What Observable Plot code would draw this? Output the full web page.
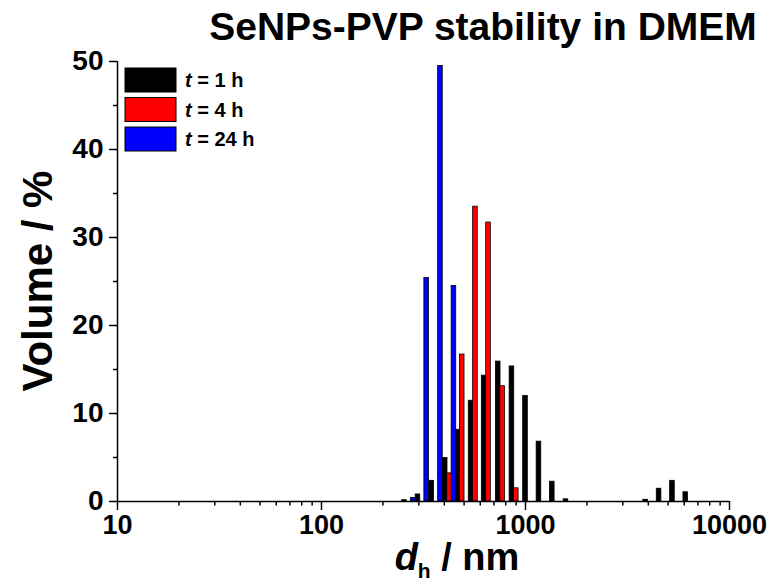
<!DOCTYPE html>
<html><head><meta charset="utf-8">
<script src="https://cdn.jsdelivr.net/npm/d3@7"></script>
<script src="https://cdn.jsdelivr.net/npm/@observablehq/plot@0.6"></script>
<style>body{margin:0;background:#fff} #chart{width:771px;height:584px}</style>
</head><body><div id="chart"></div>
<script>
const chartTitle = "SeNPs-PVP stability in DMEM";
const yTitle = "Volume / %";
const seriesNames = ["1 h", "4 h", "24 h"];
const seriesColors = ["#000000", "#ff0000", "#0000ff"];
// size classes (nm)
const diameters = [255, 297, 347, 404, 466, 541, 627, 735, 858, 1000, 1164, 1353, 1579, 3882, 4516, 5252, 6103];
const volume1h  = [0.15, 0.8, 2.35, 4.95, 8.15, 11.45, 14.3, 15.9, 15.35, 12.0, 6.8, 2.25, 0.25, 0.2, 1.45, 2.35, 1.05];
const volume4h  = [0, 0, 0, 3.2, 16.7, 33.5, 31.7, 13.1, 1.5, 0, 0, 0, 0, 0, 0, 0, 0];
const volume24h = [0.4, 25.4, 49.5, 24.5, 0, 0, 0, 0, 0, 0, 0, 0, 0, 0, 0, 0, 0];
const yTicks = [0, 10, 20, 30, 40, 50];
const yMinorTicks = [5, 15, 25, 35, 45];
const xTicks = [10, 100, 1000, 10000];
const xMinorTicks = [20, 30, 40, 50, 60, 70, 80, 90, 200, 300, 400, 500, 600, 700, 800, 900, 2000, 3000, 4000, 5000, 6000, 7000, 8000, 9000];

const seriesValues = [volume1h, volume4h, volume24h];
// grouped columns: offset of each series within a size class (log decades)
const groupOffset = [0, 0.0214, 0.0428];
const halfWidth = 0.0113;
const rows = [];
seriesValues.forEach((vals, s) => vals.forEach((v, i) => {
  if (v > 0) rows.push({d: diameters[i], v, s, color: seriesColors[s]});
}));

const font = "'Liberation Sans', Arial, Helvetica, sans-serif";
const plot = Plot.plot({
  width: 771, height: 584,
  marginLeft: 117, marginRight: 42, marginTop: 61, marginBottom: 83,
  style: {fontFamily: font, fontWeight: "bold", background: "white", color: "black", overflow: "visible"},
  x: {type: "log", domain: [10, 10000]},
  y: {domain: [0, 50]},
  color: {type: "identity"},
  marks: [
    Plot.rect(rows, {
      x1: r => r.d * Math.pow(10, groupOffset[r.s] - halfWidth),
      x2: r => r.d * Math.pow(10, groupOffset[r.s] + halfWidth),
      y1: 0, y2: "v", fill: "color", stroke: "#000", strokeWidth: 0.8
    }),
    Plot.axisY(yTicks, {tickSize: 8, tickPadding: 6, fontSize: 28, fontWeight: "bold", label: null, strokeWidth: 1.5}),
    Plot.axisY(yMinorTicks, {tickSize: 4, tickFormat: () => "", label: null, strokeWidth: 1.5}),
    Plot.axisX(xTicks, {tickSize: 9, tickPadding: 4, fontSize: 27, fontWeight: "bold", label: null, strokeWidth: 1.5, tickFormat: d3.format("d")}),
    Plot.axisX(xMinorTicks, {tickSize: 4.5, tickFormat: () => "", label: null, strokeWidth: 1.5}),
    Plot.ruleY([0], {strokeWidth: 1.5}),
    Plot.ruleX([10], {strokeWidth: 1.5})
  ]
});
document.getElementById("chart").appendChild(plot);

const svg = d3.select(plot);
svg.append("text").attr("x", 483).attr("y", 40).attr("text-anchor", "middle")
  .attr("font-family", font).attr("font-weight", "bold").attr("font-size", 39).attr("fill", "#000")
  .text(chartTitle);
svg.append("text").attr("transform", "translate(52,281) rotate(-90)").attr("text-anchor", "middle")
  .attr("font-family", font).attr("font-weight", "bold").attr("font-size", 42).attr("fill", "#000")
  .text(yTitle);
const xt = svg.append("text").attr("x", 457).attr("y", 570).attr("text-anchor", "middle")
  .attr("font-family", font).attr("font-weight", "bold").attr("font-size", 38).attr("fill", "#000");
xt.append("tspan").attr("font-style", "italic").text("d");
xt.append("tspan").attr("font-size", 21).attr("dy", 8).text("h");
xt.append("tspan").attr("dy", -8).text(" / nm");

const lg = svg.append("g").attr("transform", "translate(125,68)");
seriesNames.forEach((name, i) => {
  const g = lg.append("g").attr("transform", `translate(0,${i * 29.5})`);
  g.append("rect").attr("width", 51).attr("height", 24).attr("fill", seriesColors[i]).attr("stroke", "#000").attr("stroke-width", 1);
  const t = g.append("text").attr("x", 60).attr("y", 19).attr("text-anchor", "start").attr("font-family", font).attr("font-weight", "bold")
    .attr("font-size", 20).attr("fill", "#000");
  t.append("tspan").attr("font-style", "italic").text("t");
  t.append("tspan").text(" = " + name);
});
</script></body></html>
